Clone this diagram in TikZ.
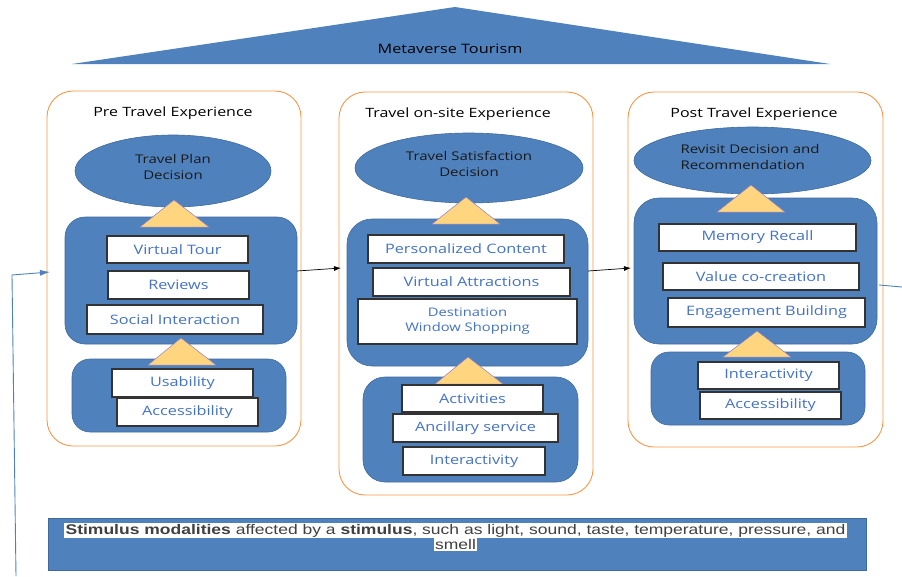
\documentclass[tikz,border=0pt]{standalone}
\usepackage{fontspec}
\setmainfont{Open Sans}[FakeStretch=1.25]
\newfontfamily\arialf{Liberation Sans}[FakeStretch=1.25]
\usetikzlibrary{shapes.geometric,arrows.meta}

\definecolor{boxblue}{RGB}{79,129,189}
\definecolor{boxedge}{RGB}{63,106,158}
\definecolor{framebox}{RGB}{247,150,70}
\definecolor{labelblue}{RGB}{68,114,196}
\definecolor{trifill}{RGB}{255,213,128}
\definecolor{triedge}{RGB}{142,124,195}
\definecolor{stimtext}{RGB}{64,64,64}

\tikzset{
  stage/.style={draw=framebox, line width=0.9pt, rounded corners=26pt,
    minimum width=#1, inner sep=0pt, outer sep=0pt},
  group/.style={draw=boxedge, line width=0.6pt, fill=boxblue,
    rounded corners=20pt, inner sep=0pt, outer sep=0pt},
  item/.style={draw=black!80, line width=1.1pt, fill=white, text=labelblue,
    inner sep=0pt, outer sep=0pt, align=center,
    font=\fontsize{13}{15}\selectfont},
  decision/.style={ellipse, draw=boxedge, line width=0.6pt, fill=boxblue,
    inner sep=0pt, outer sep=0pt},
  decisiontext/.style={text=black!90, font=\fontsize{12}{16}\selectfont},
  title/.style={text=black, font=\fontsize{12.8}{14}\selectfont},
  tri/.style={fill=trifill, draw=triedge, line width=0.5pt},
  flow/.style={draw=black, line width=0.7pt, -{Latex[length=7pt,width=5pt]}},
  loop/.style={draw=boxblue, line width=0.9pt},
}

\begin{document}
\begin{tikzpicture}[x=1pt,y=-1pt]
\useasboundingbox (0,0) rectangle (902,576);

% roof
\fill[boxblue] (72,64) -- (455,7) -- (830,64) -- cycle;
\node[title, font=\fontsize{13}{14}\selectfont] (roof) at (450,49) {Metaverse Tourism};

% stage frames
\node[stage=254pt, minimum height=355pt] (pre) at (174,268.5) {};
\node[stage=254pt, minimum height=403pt] (onsite) at (466,293.5) {};
\node[stage=255pt, minimum height=355pt] (post) at (755.5,269.5) {};

\node[title] (pretitle) at (173,113) {Pre Travel Experience};
\node[title] (onsitetitle) at (458,114) {Travel on-site Experience};
\node[title] (posttitle) at (754,114) {Post Travel Experience};

% decisions
\node[decision, minimum width=196pt, minimum height=72pt] (e1) at (173,171) {};
\node[decision, minimum width=228pt, minimum height=70pt] (e2) at (469,168) {};
\node[decision, minimum width=237pt, minimum height=67pt] (e3) at (752.5,160.5) {};
\node[decisiontext, align=center] (e1t) at (173,167) {Travel Plan\\Decision};
\node[decisiontext, align=center] (e2t) at (469,164) {Travel Satisfaction\\Decision};
\node[decisiontext, align=left] (e3t) at (750,157) {Revisit Decision and\\Recommendation};

% factor groups
\node[group, minimum width=232pt, minimum height=127pt] (c1u) at (181,280.5) {};
\node[group, minimum width=214pt, minimum height=73pt, rounded corners=18pt] (c1l) at (179,395.5) {};
\node[group, minimum width=241pt, minimum height=147pt, rounded corners=25pt] (c2u) at (467.5,292.5) {};
\node[group, minimum width=215pt, minimum height=105pt, rounded corners=22pt] (c2l) at (470.5,429.5) {};
\node[group, minimum width=243pt, minimum height=146pt, rounded corners=25pt] (c3u) at (755.5,271) {};
\node[group, minimum width=214pt, minimum height=73pt, rounded corners=18pt] (c3l) at (758,388.5) {};

% influence markers
\draw[tri] (140,227) -- (174,200) -- (209,227) -- cycle;
\draw[tri] (148,365) -- (181,338) -- (216,365) -- cycle;
\draw[tri] (432,224) -- (466,197) -- (500,224) -- cycle;
\draw[tri] (435,384) -- (468,357) -- (503,384) -- cycle;
\draw[tri] (717,212) -- (751,185) -- (785,212) -- cycle;
\draw[tri] (723,357) -- (757,331) -- (791,357) -- cycle;

% pre travel items
\node[item, minimum width=141pt, minimum height=27pt] (vt) at (177.5,249.5) {Virtual Tour};
\node[item, minimum width=141pt, minimum height=28pt] (rev) at (178.5,285) {Reviews};
\node[item, minimum width=176pt, minimum height=29pt] (soc) at (175,319.5) {Social Interaction};
\node[item, minimum width=141pt, minimum height=28pt] (usab) at (182.5,383) {Usability};
\node[item, minimum width=141pt, minimum height=28pt] (acc1) at (187.5,412) {Accessibility};

% on-site items
\node[item, minimum width=196pt, minimum height=28pt] (pers) at (466,249) {Personalized Content};
\node[item, minimum width=197pt, minimum height=28pt] (vatt) at (471.5,282) {Virtual Attractions};
\node[item, minimum width=219pt, minimum height=45pt, font=\fontsize{11.8}{15}\selectfont] (dws) at (467.5,321.5) {Destination\\Window Shopping};
\node[item, minimum width=141pt, minimum height=27pt] (act) at (472.5,398.5) {Activities};
\node[item, minimum width=165pt, minimum height=28pt] (anc) at (475.5,428) {Ancillary service};
\node[item, minimum width=142pt, minimum height=28pt] (int2) at (474,461) {Interactivity};

% post travel items
\node[item, minimum width=197pt, minimum height=27pt] (mem) at (757.5,237.5) {Memory Recall};
\node[item, minimum width=196pt, minimum height=27pt] (val) at (761,276.5) {Value co-creation};
\node[item, minimum width=197pt, minimum height=29pt] (eng) at (766.5,312.5) {Engagement Building};
\node[item, minimum width=141pt, minimum height=27pt] (int3) at (768.5,375.5) {Interactivity};
\node[item, minimum width=141pt, minimum height=27pt] (acc3) at (770.5,405.5) {Accessibility};

% stage flow
\draw[flow] ([yshift=9.5pt]c1u.east) -- ([yshift=25.5pt,xshift=2pt]onsite.west);
\draw[flow] ([yshift=21.5pt]c2u.east) -- ([yshift=1.5pt,xshift=3pt]post.west);

% feedback loop
\coordinate (loopfoot) at (16,576);
\coordinate (loopcorner) at (12,275);
\coordinate (loopend) at (902,287);
\draw[loop, -{Latex[length=10pt,width=6pt]}] (loopfoot) -- (loopcorner) -- ([yshift=-3.5pt,xshift=3pt]pre.west);
\draw[loop] ([xshift=-4pt,yshift=-15.5pt]post.east) -- (loopend);

% stimulus band
\node[draw=boxedge, line width=0.8pt, fill=boxblue, minimum width=818pt,
  minimum height=52pt, inner sep=0pt, outer sep=0pt] (stim) at (457,544) {};
\node[fill=white, text=stimtext, inner xsep=2pt, inner ysep=1pt,
  font=\arialf\fontsize{14}{15}\selectfont] (stim1) at (455.5,530.5)
  {\textbf{Stimulus modalities} affected by a \textbf{stimulus}, such as light, sound, taste, temperature, pressure, and};
\node[fill=white, text=stimtext, inner xsep=1pt, inner ysep=1pt,
  font=\arialf\fontsize{14}{15}\selectfont, anchor=north] (stim2) at (stim1.south) {smell};
\end{tikzpicture}
\end{document}
